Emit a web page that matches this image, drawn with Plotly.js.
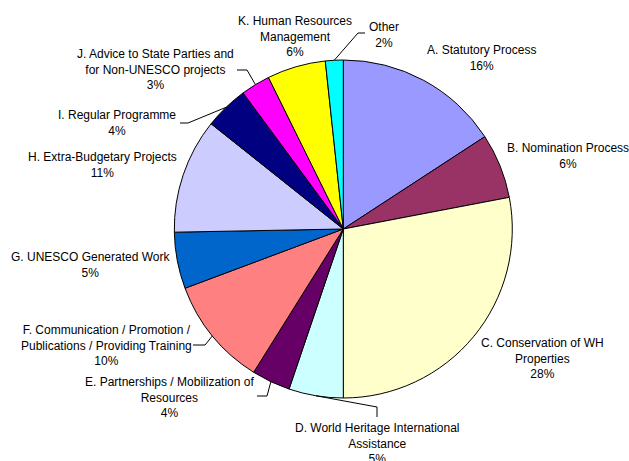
<!DOCTYPE html>
<html>
<head>
<meta charset="utf-8">
<script src="https://cdn.plot.ly/plotly-3.0.1.min.js"></script>
<style>html,body{margin:0;padding:0;background:#fff;}#chart{width:629px;height:461px;}</style>
</head>
<body>
<div id="chart"></div>
<script>
// ---- data ----
const categories = [
  'A. Statutory Process',
  'B. Nomination Process',
  'C. Conservation of WH<br>Properties',
  'D. World Heritage International<br>Assistance',
  'E. Partnerships / Mobilization of<br>Resources',
  'F. Communication / Promotion /<br>Publications / Providing Training',
  'G. UNESCO Generated Work',
  'H. Extra-Budgetary Projects',
  'I. Regular Programme',
  'J. Advice to State Parties and<br>for Non-UNESCO projects',
  'K. Human Resources<br>Management',
  'Other'
];
const values = [15.8, 6.2, 28.0, 5.2, 3.7, 10.4, 5.4, 11.0, 4.2, 2.8, 5.6, 1.7];
const colors = ['#9999FF', '#993366', '#FFFFCC', '#CCFFFF', '#660066', '#FF8080',
                '#0066CC', '#CCCCFF', '#000080', '#FF00FF', '#FFFF00', '#00FFFF'];

// ---- layout helpers (pixels) ----
const W = 629, H = 461;
const cx = 343.3, cy = 229, R = 169;
const labelPos = [[482,50],[568,148],[542,343],[377,428],[169,382],[106,330],
                  [90,257],[102,157],[117,115],[155,54],[295,21],[384,27]];
const elbows = {3: [[377,417],[377,407]], 4: [[257,396],[267,396]], 5: [[193,345],[205,345]],
                8: [[180,123],[188,123]], 9: [[237,70],[247,70]], 11: [[365,33],[358,33]]};

const px = x => x / W;
const py = y => 1 - y / H;

const total = values.reduce((a, b) => a + b, 0);
const annotations = [];
const shapes = [];
let cum = 0;
values.forEach((v, i) => {
  const mid = (cum + v / 2) / total * 2 * Math.PI;
  cum += v;
  const pct = Math.round(v / total * 100 + 1e-9) + '%';
  annotations.push({
    x: px(labelPos[i][0]), y: py(labelPos[i][1] - 9), xref: 'paper', yref: 'paper',
    xanchor: 'center', yanchor: 'top', align: 'center', showarrow: false,
    text: categories[i] + '<br>' + pct,
    font: {family: 'Liberation Sans, Arial, sans-serif', size: 12, color: '#000'}
  });
  if (elbows[i]) {
    const e = elbows[i];
    const ex = cx + R * Math.sin(mid), ey = cy - R * Math.cos(mid);
    const ln = {color: '#000', width: 1};
    shapes.push({type: 'line', xref: 'paper', yref: 'paper', x0: px(e[0][0]), y0: py(e[0][1]), x1: px(e[1][0]), y1: py(e[1][1]), line: ln});
    shapes.push({type: 'line', xref: 'paper', yref: 'paper', x0: px(e[1][0]), y0: py(e[1][1]), x1: px(ex), y1: py(ey), line: ln});
  }
});

const trace = {
  type: 'pie',
  labels: categories,
  values: values,
  sort: false,
  direction: 'clockwise',
  rotation: 0,
  textinfo: 'none',
  hoverinfo: 'none',
  marker: {colors: colors, line: {color: '#000', width: 1}},
  domain: {x: [px(cx - R), px(cx + R)], y: [py(cy + R), py(cy - R)]},
  showlegend: false
};

const layout = {
  width: W, height: H,
  margin: {l: 0, r: 0, t: 0, b: 0},
  paper_bgcolor: '#fff',
  plot_bgcolor: '#fff',
  showlegend: false,
  annotations: annotations,
  shapes: shapes
};

Plotly.newPlot('chart', [trace], layout, {displayModeBar: false, staticPlot: true});
</script>
</body>
</html>
